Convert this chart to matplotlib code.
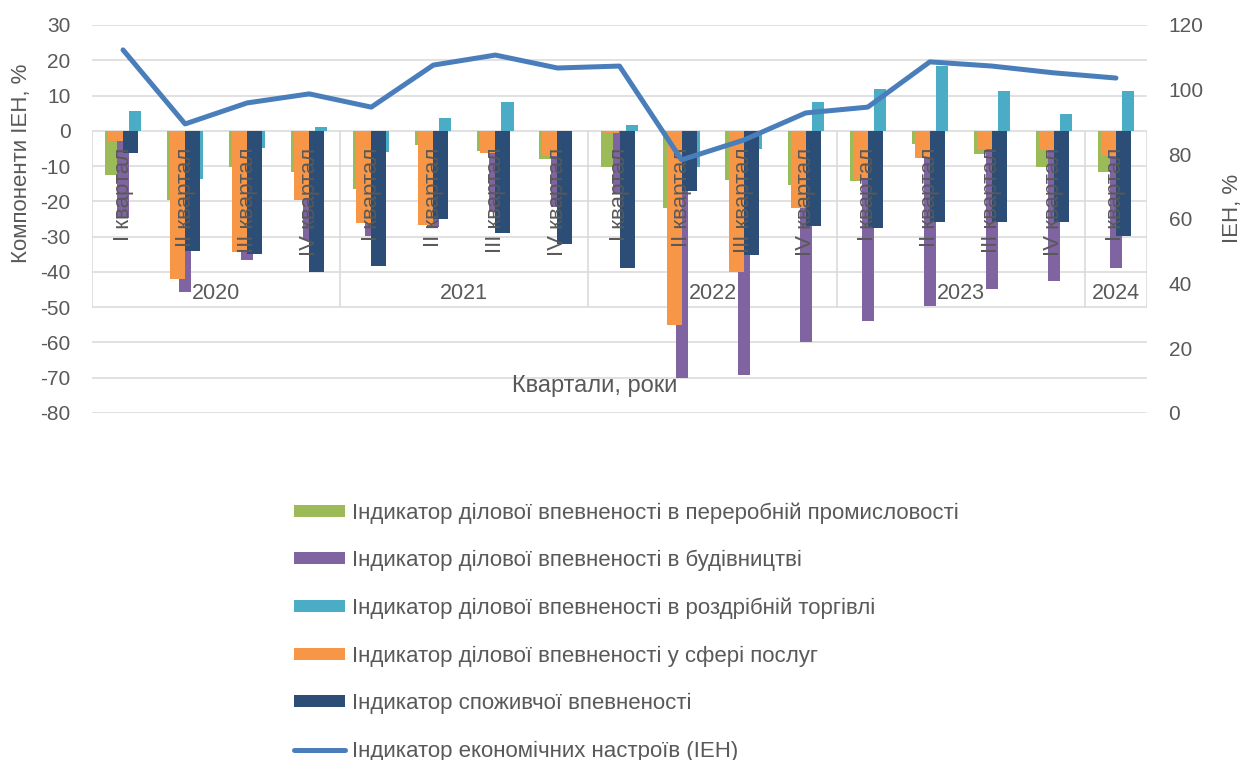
import matplotlib
matplotlib.use("Agg")
import numpy as np
from matplotlib import pyplot as plt
from matplotlib.patches import Patch
from matplotlib.lines import Line2D

plt.rcParams['font.family'] = ['Liberation Sans', 'DejaVu Sans']
plt.rcParams['axes.unicode_minus'] = False

# data
quarters = ["I квартал", "II квартал", "III квартал", "IV квартал"] * 4 + ["I квартал"]
years = ["2020", "2021", "2022", "2023", "2024"]
year_counts = [4, 4, 4, 4, 1]

manufacturing = [-12.5, -19.7, -10.2, -11.8, -16.4, -4.0, -5.7, -8.0, -10.2,
                 -21.8, -14.0, -15.4, -14.3, -3.8, -6.6, -10.2, -11.8]
construction = [-24.8, -45.8, -36.5, -31.0, -29.7, -27.2, -23.0, -21.5, -17.6,
                -70.0, -69.1, -60.0, -53.8, -49.8, -44.8, -42.6, -39.0]
retail = [5.5, -13.6, -5.0, 1.1, -6.1, 3.6, 8.2, 0.0, 1.6,
          -10.2, -5.2, 8.2, 11.8, 18.3, 11.4, 4.9, 11.4]
services = [-2.8, -42.0, -34.3, -19.7, -26.0, -26.8, -6.4, -7.0, -0.7,
            -55.0, -39.9, -22.0, -14.0, -7.8, -5.2, -5.4, -7.1]
consumer = [-6.3, -34.1, -34.8, -40.0, -38.3, -24.9, -29.0, -32.2, -38.9,
            -17.0, -35.2, -27.0, -27.5, -25.9, -25.9, -25.9, -29.7]
ien = [112.3, 89.4, 95.9, 98.7, 94.6, 107.6, 110.7, 106.7, 107.3,
       78.3, 84.4, 92.8, 94.6, 108.6, 107.3, 105.2, 103.6]

labels = ["Індикатор ділової впевненості в переробній промисловості",
          "Індикатор ділової впевненості в будівництві",
          "Індикатор ділової впевненості в роздрібній торгівлі",
          "Індикатор ділової впевненості у сфері послуг",
          "Індикатор споживчої впевненості",
          "Індикатор економічних настроїв (ІЕН)"]
colors = ["#9BBB59", "#8064A2", "#4BACC6", "#F79646", "#2C4D75", "#4A7EBB"]

txt = "#595959"
grid = "#D9D9D9"
fs = 16

x = np.arange(len(quarters))

fig = plt.figure(figsize=(12.41, 7.60), dpi=100)
ax = fig.add_axes([92 / 1241, 1 - 413 / 760, 1055 / 1241, 388 / 760])

# two overlapping bar groups, like the excel original
wa = 0.195
wb = 0.242
ax.bar(x - wa, manufacturing, wa, color=colors[0], zorder=2)
ax.bar(x, construction, wa, color=colors[1], zorder=2)
ax.bar(x + wa, retail, wa, color=colors[2], zorder=2)
ax.bar(x - wb / 2, services, wb, color=colors[3], zorder=3)
ax.bar(x + wb / 2, consumer, wb, color=colors[4], zorder=3)

ax.set_xlim(-0.5, len(quarters) - 0.5)
ax.set_ylim(-80, 30)
ax.set_yticks(np.arange(-80, 31, 10))
ax.yaxis.grid(True, color=grid, lw=1.1)
ax.set_axisbelow(True)
ax.set_xticks([])
ax.tick_params(axis='y', length=0, pad=15.5, labelsize=15, labelcolor=txt)
for s in ax.spines.values():
    s.set_visible(False)

# multi-level category axis drawn inside the plot
bounds = np.concatenate([[0], np.cumsum(year_counts)]) - 0.5
ax.vlines(bounds, -50, 0, color=grid, lw=1.1, zorder=1)
for i, q in enumerate(quarters):
    ax.text(x[i], -4.8, q, rotation=90, ha='center', va='top',
            fontsize=fs, color=txt, zorder=5)
for k, yr in enumerate(years):
    ax.text((bounds[k] + bounds[k + 1]) / 2, -46, yr, ha='center', va='center',
            fontsize=15.5, color=txt, zorder=5)
ax.text(8 - 0.4, -72.4, "Квартали, роки", ha='center', va='center',
        fontsize=17, color=txt)

ax.set_ylabel("Компоненти ІЕН, %", fontsize=16, color=txt)
ax.yaxis.set_label_coords(-60 / 1055, (413 - 163) / 388)

ax2 = ax.twinx()
ax2.plot(x, ien, color=colors[5], lw=3.6, solid_capstyle='round', zorder=4)
ax2.set_ylim(0, 120)
ax2.set_yticks(np.arange(0, 121, 20))
ax2.tick_params(axis='y', length=0, pad=15.5, labelsize=15, labelcolor=txt)
for s in ax2.spines.values():
    s.set_visible(False)
ax2.set_ylabel("ІЕН, %", fontsize=16, color=txt)
ax2.yaxis.set_label_coords(1 + 75 / 1055, (413 - 208) / 388)

handles = [Patch(facecolor=c) for c in colors[:5]]
handles.append(Line2D([], [], color=colors[5], lw=3.6, solid_capstyle='round'))
fig.legend(handles, labels, loc='upper left', bbox_to_anchor=(294 / 1241, 1 - 502 / 760),
           frameon=False, fontsize=fs, labelcolor=txt, borderpad=0, borderaxespad=0,
           handlelength=2.3, handleheight=0.45, handletextpad=0.3, labelspacing=1.19)

fig.savefig("out.png", dpi=100)
plt.close()
